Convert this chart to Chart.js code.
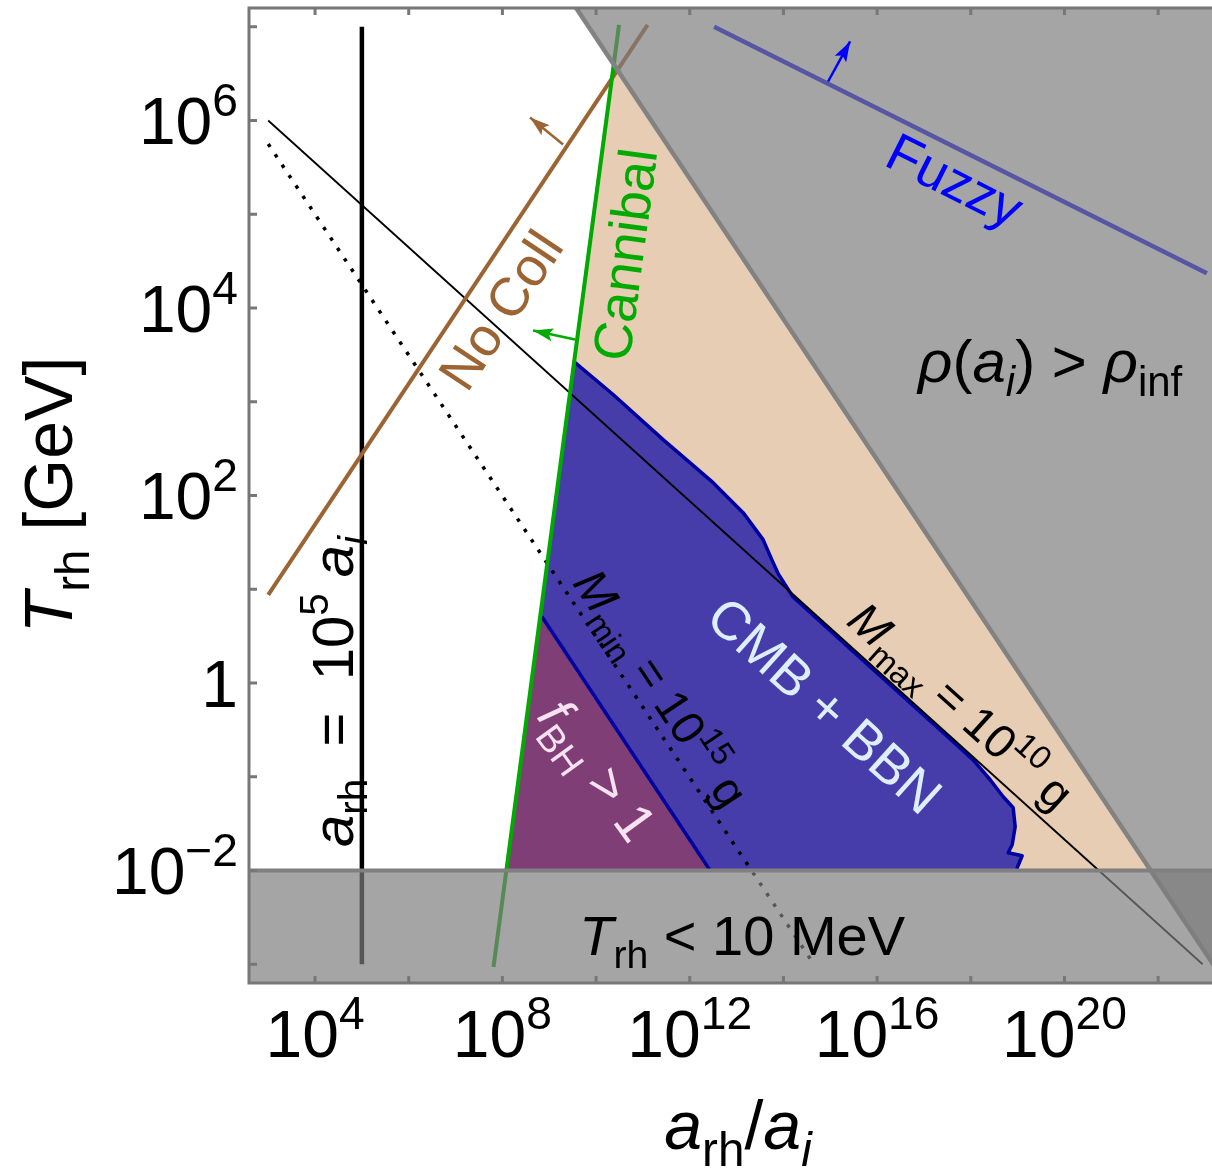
<!DOCTYPE html>
<html><head><meta charset="utf-8">
<script src="https://cdn.jsdelivr.net/npm/chart.js@4.4.1/dist/chart.umd.min.js"></script>
<style>html,body{margin:0;padding:0;background:#fff;overflow:hidden}canvas{display:block}</style>
</head><body>
<canvas id="c" width="1212" height="1169"></canvas>
<script>
// ---------- data (log10 values) ----------
const xLimLog = [2.59, 23.15];
const yLimLog = [-3.2, 7.2];
const xTickExps = [4, 6, 8, 10, 12, 14, 16, 18, 20, 22];
const xLabelExps = [4, 8, 12, 16, 20];
const yTickExps = [-3, -2, -1, 0, 1, 2, 3, 4, 5, 6, 7];
const yLabelExps = [-2, 0, 2, 4, 6];

// allowed (beige) region: Cannibal line .. rho(a_i)=rho_inf line, above 10 MeV
const beigeLogX = [10.378, 21.842, 8.085];
const beigeLogY = [6.60, -2.0, -2.0];
// CMB + BBN excluded region
const cmbLogX = [9.552, 10.363, 11.431, 12.499, 13.139, 13.566, 13.780, 13.887, 14.2, 15.5, 16.5, 17.5, 18.05, 18.414, 18.692, 18.905, 18.948, 18.884, 18.798, 19.097, 18.991, 18.991, 8.085];
const cmbLogY = [3.418, 3.077, 2.596, 2.137, 1.817, 1.529, 1.284, 1.167, 0.92, 0.33, -0.12, -0.57, -0.82, -1.032, -1.213, -1.330, -1.533, -1.725, -1.810, -1.843, -1.971, -2.0, -2.0];
// f_BH > 1 region
const fbhLogX = [8.841, 12.435, 8.085];
const fbhLogY = [0.710, -2.0, -2.0];
// rho(a_i) > rho_inf boundary and region
const rhoLogX = [9.5, 23.5];
const rhoLogY = [7.256, -3.244];
const rhoRegionLogX = [9.5, 23.5, 23.5];
const rhoRegionLogY = [7.256, -3.244, 7.256];
// T_rh < 10 MeV region
const bbnLogX = [2.0, 24.0, 24.0, 2.0];
const bbnLogY = [-2.0, -2.0, -4.0, -4.0];
const bbnEdgeLogX = [2.0, 24.0];
const bbnEdgeLogY = [-2.0, -2.0];
// lines
const mmaxLogX = [3.0, 22.95];
const mmaxLogY = [6.0, -3.0];
const mminLogX = [3.0, 14.65];
const mminLogY = [5.75, -3.0];
const arhLogX = [5.0, 5.0];
const arhLogY = [-3.0, 7.0];
const nocollLogX = [3.0, 11.1];
const nocollLogY = [0.94, 7.02];
const cannibalLogX = [7.81, 10.49];
const cannibalLogY = [-3.03, 7.02];
const fuzzyLogX = [12.52, 23.04];
const fuzzyLogY = [7.0, 4.37];
// arrows (base -> tip)
const nocollArrowLogX = [9.296, 8.591];
const nocollArrowLogY = [5.744, 6.032];
const cannibalArrowLogX = [9.552, 8.655];
const cannibalArrowLogY = [3.663, 3.759];
const fuzzyArrowLogX = [14.954, 15.424];
const fuzzyArrowLogY = [6.416, 6.843];

// ---------- styling ----------
const FONT = '"Liberation Sans", Arial, Helvetica, sans-serif';
const P = e => Math.pow(10, e);
const toPts = (lx, ly) => lx.map((v, i) => ({x: P(v), y: P(ly[i])}));

const labels = [
  {lx: 7.95, ly: 3.983, rot: -56.3, size: 54, color: '#9b6432', parts: [['No Coll']]},
  {lx: 10.6, ly: 4.57, rot: -82.4, size: 54, color: '#00aa00', parts: [['Cannibal']]},
  {lx: 17.667, ly: 5.37, rot: 26.6, size: 54, color: '#0000ff', parts: [['Fuzzy']]},
  {lx: 19.695, ly: 3.44, rot: 0, size: 60, color: '#000', parts: [['ρ', 'i'], ['('], ['a', 'i'], ['i', 'subi'], [')'], [' > '], ['ρ', 'i'], ['inf', 'sub']]},
  {lx: 14.89, ly: -0.232, rot: 42, size: 54, color: '#ddeeff', parts: [['CMB + BBN']]},
  {lx: 17.8, ly: -0.24, rot: 42, size: 47, color: '#000', parts: [['M', 'i'], ['max', 'sub'], [' = 10'], ['10', 'sup'], [' g']]},
  {lx: 11.4, ly: -0.05, rot: 56.3, size: 47, color: '#000', parts: [['M', 'i'], ['min', 'sub'], [' = 10'], ['15', 'sup'], [' g']]},
  {lx: 10.043, ly: -0.925, rot: 54, size: 54, color: '#f8e1f1', parts: [['f', 'i'], ['BH', 'sub'], [' > 1']]},
  {lx: 4.36, ly: -0.09, rot: -90, size: 58, color: '#000', parts: [['a', 'i'], ['rh', 'sub'], ['  =  10'], ['5', 'sup'], [' '], ['a', 'i'], ['i', 'subi']]},
  {lx: 13.118, ly: -2.686, rot: 0, size: 56, color: '#000', parts: [['T', 'i'], ['rh', 'sub'], [' < 10 MeV']]}
];

function fontFor(style, size) {
  const small = style === 'sub' || style === 'subi' || style === 'sup';
  const s = small ? size * 0.7 : size;
  const it = style === 'i' || style === 'subi';
  return {
    font: (it ? 'italic ' : '') + s.toFixed(1) + 'px ' + FONT,
    dy: (style === 'sub' || style === 'subi') ? size * 0.24 : (style === 'sup' ? -size * 0.42 : 0)
  };
}
function drawRich(ctx, parts, x, y, size, color, rot, align) {
  ctx.save();
  ctx.translate(x, y);
  ctx.rotate(rot * Math.PI / 180);
  ctx.fillStyle = color;
  ctx.textAlign = 'left';
  ctx.textBaseline = 'alphabetic';
  let total = 0;
  const ws = parts.map(([t, st]) => { ctx.font = fontFor(st, size).font; const w = ctx.measureText(t).width; total += w; return w; });
  let cx = align === 'right' ? -total : -total / 2;
  const by = size * 0.358;
  parts.forEach(([t, st], i) => { const f = fontFor(st, size); ctx.font = f.font; ctx.fillText(t, cx, by + f.dy); cx += ws[i]; });
  ctx.restore();
}

function line(lx, ly, color, width, extra) {
  return Object.assign({data: toPts(lx, ly), showLine: true, borderColor: color, backgroundColor: color,
    borderWidth: width, pointRadius: 0, pointHoverRadius: 0, fill: false, tension: 0, clip: 0,
    borderCapStyle: 'butt', borderJoinStyle: 'round'}, extra || {});
}
function region(lx, ly, color) {
  return {data: toPts(lx, ly), showLine: false, pointRadius: 0, pointHoverRadius: 0, polyFill: color, clip: 0};
}

const GRAY_OVER = 'rgba(124,124,124,0.69)';
const DARKBLUE = '#0000a0';
const bottomToTop = [
  region(beigeLogX, beigeLogY, '#e6cdb3'),
  region(cmbLogX, cmbLogY, '#463dab'),
  line(cmbLogX.slice(0, 22), cmbLogY.slice(0, 22), DARKBLUE, 3.5),
  region(fbhLogX, fbhLogY, '#803e76'),
  line(fbhLogX.slice(0, 2), fbhLogY.slice(0, 2), DARKBLUE, 3.5),
  line(mmaxLogX, mmaxLogY, '#000', 1.8),
  line(mminLogX, mminLogY, '#000', 3.5, {borderDash: [3.5, 9]}),
  line(arhLogX, arhLogY, '#000', 4.5),
  line(nocollLogX, nocollLogY, '#9b6432', 4),
  line(cannibalLogX, cannibalLogY, '#00aa00', 4),
  line(fuzzyLogX, fuzzyLogY, '#0000ff', 4.5),
  region(rhoRegionLogX, rhoRegionLogY, GRAY_OVER),
  line(rhoLogX, rhoLogY, '#828282', 4.5),
  region(bbnLogX, bbnLogY, GRAY_OVER),
  line(bbnEdgeLogX, bbnEdgeLogY, '#808080', 4),
  line(nocollArrowLogX, nocollArrowLogY, '#9b6432', 2.5, {arrowHead: [20, 13]}),
  line(cannibalArrowLogX, cannibalArrowLogY, '#00aa00', 2.5, {arrowHead: [20, 13]}),
  line(fuzzyArrowLogX, fuzzyArrowLogY, '#0000ff', 2.5, {arrowHead: [20, 13]})
];
bottomToTop.forEach((d, k) => { d.order = 100 - k; });

const custom = {
  id: 'custom',
  beforeDatasetDraw(chart, args) {
    const ds = chart.data.datasets[args.index];
    if (!ds.polyFill) return;
    const ctx = chart.ctx, a = chart.chartArea, pts = args.meta.data;
    ctx.save();
    ctx.beginPath(); ctx.rect(a.left, a.top, a.right - a.left, a.bottom - a.top); ctx.clip();
    ctx.beginPath();
    pts.forEach((p, i) => i ? ctx.lineTo(p.x, p.y) : ctx.moveTo(p.x, p.y));
    ctx.closePath();
    ctx.fillStyle = ds.polyFill;
    ctx.fill();
    ctx.restore();
  },
  afterDatasetDraw(chart, args) {
    const ds = chart.data.datasets[args.index];
    if (!ds.arrowHead) return;
    const ctx = chart.ctx, pts = args.meta.data, n = pts.length;
    const p1 = pts[n - 2], p2 = pts[n - 1];
    const ang = Math.atan2(p2.y - p1.y, p2.x - p1.x);
    const [L, W] = ds.arrowHead;
    ctx.save();
    ctx.translate(p2.x, p2.y); ctx.rotate(ang);
    ctx.beginPath();
    ctx.moveTo(0, 0); ctx.lineTo(-L, W / 2); ctx.lineTo(-L * 0.8, 0); ctx.lineTo(-L, -W / 2); ctx.closePath();
    ctx.fillStyle = ds.borderColor; ctx.fill();
    ctx.restore();
  },
  afterDatasetsDraw(chart) {
    const ctx = chart.ctx, xs = chart.scales.x, ys = chart.scales.y;
    labels.forEach(l => {
      drawRich(ctx, l.parts, xs.getPixelForValue(P(l.lx)), ys.getPixelForValue(P(l.ly)), l.size, l.color, l.rot, 'center');
    });
  },
  afterDraw(chart) {
    const ctx = chart.ctx, a = chart.chartArea, xs = chart.scales.x, ys = chart.scales.y;
    ctx.save();
    ctx.strokeStyle = '#777777'; ctx.lineWidth = 3; ctx.lineCap = 'square';
    ctx.beginPath();
    ctx.moveTo(a.right + 2, a.top); ctx.lineTo(a.left, a.top); ctx.lineTo(a.left, a.bottom); ctx.lineTo(a.right + 2, a.bottom);
    ctx.stroke();
    ctx.lineCap = 'butt';
    ctx.beginPath();
    xTickExps.forEach(e => {
      const x = xs.getPixelForValue(P(e));
      ctx.moveTo(x, a.bottom); ctx.lineTo(x, a.bottom - 7);
      ctx.moveTo(x, a.top); ctx.lineTo(x, a.top + 7);
    });
    yTickExps.forEach(e => {
      const y = ys.getPixelForValue(P(e));
      ctx.moveTo(a.left, y); ctx.lineTo(a.left + 8, y);
    });
    ctx.stroke();
    ctx.restore();
    const TS = 66;
    xLabelExps.forEach(e => {
      const x = xs.getPixelForValue(P(e));
      drawRich(ctx, [['10'], [String(e), 'sup']], x, 1057 - TS * 0.358, TS, '#000', 0, 'center');
    });
    yLabelExps.forEach(e => {
      const y = ys.getPixelForValue(P(e));
      const parts = e === 0 ? [['1']] : [['10'], [(e < 0 ? '\u2212' : '') + Math.abs(e), 'sup']];
      drawRich(ctx, parts, 238, y, TS, '#000', 0, 'right');
    });
    drawRich(ctx, [['a', 'i'], ['rh', 'sub'], ['/'], ['a', 'i'], ['i', 'subi']], 738, 1125, 68, '#000', 0, 'center');
    drawRich(ctx, [['T', 'i'], ['rh', 'sub'], [' [GeV]']], 48, 495, 68, '#000', -90, 'center');
  }
};

new Chart(document.getElementById('c'), {
  type: 'scatter',
  data: {datasets: bottomToTop},
  options: {
    responsive: false, animation: false, devicePixelRatio: 1, events: [],
    layout: {padding: {top: 8, left: 0, right: 0, bottom: 0}},
    plugins: {legend: {display: false}, tooltip: {enabled: false}, title: {display: false}},
    scales: {
      x: {type: 'logarithmic', bounds: 'data', min: P(xLimLog[0]), max: P(xLimLog[1]),
        ticks: {display: false}, grid: {display: false}, border: {display: false},
        afterFit: s => { s.height = 186; }},
      y: {type: 'logarithmic', bounds: 'data', min: P(yLimLog[0]), max: P(yLimLog[1]),
        ticks: {display: false}, grid: {display: false}, border: {display: false},
        afterFit: s => { s.width = 249; }}
    }
  },
  plugins: [custom]
});
</script></body></html>
